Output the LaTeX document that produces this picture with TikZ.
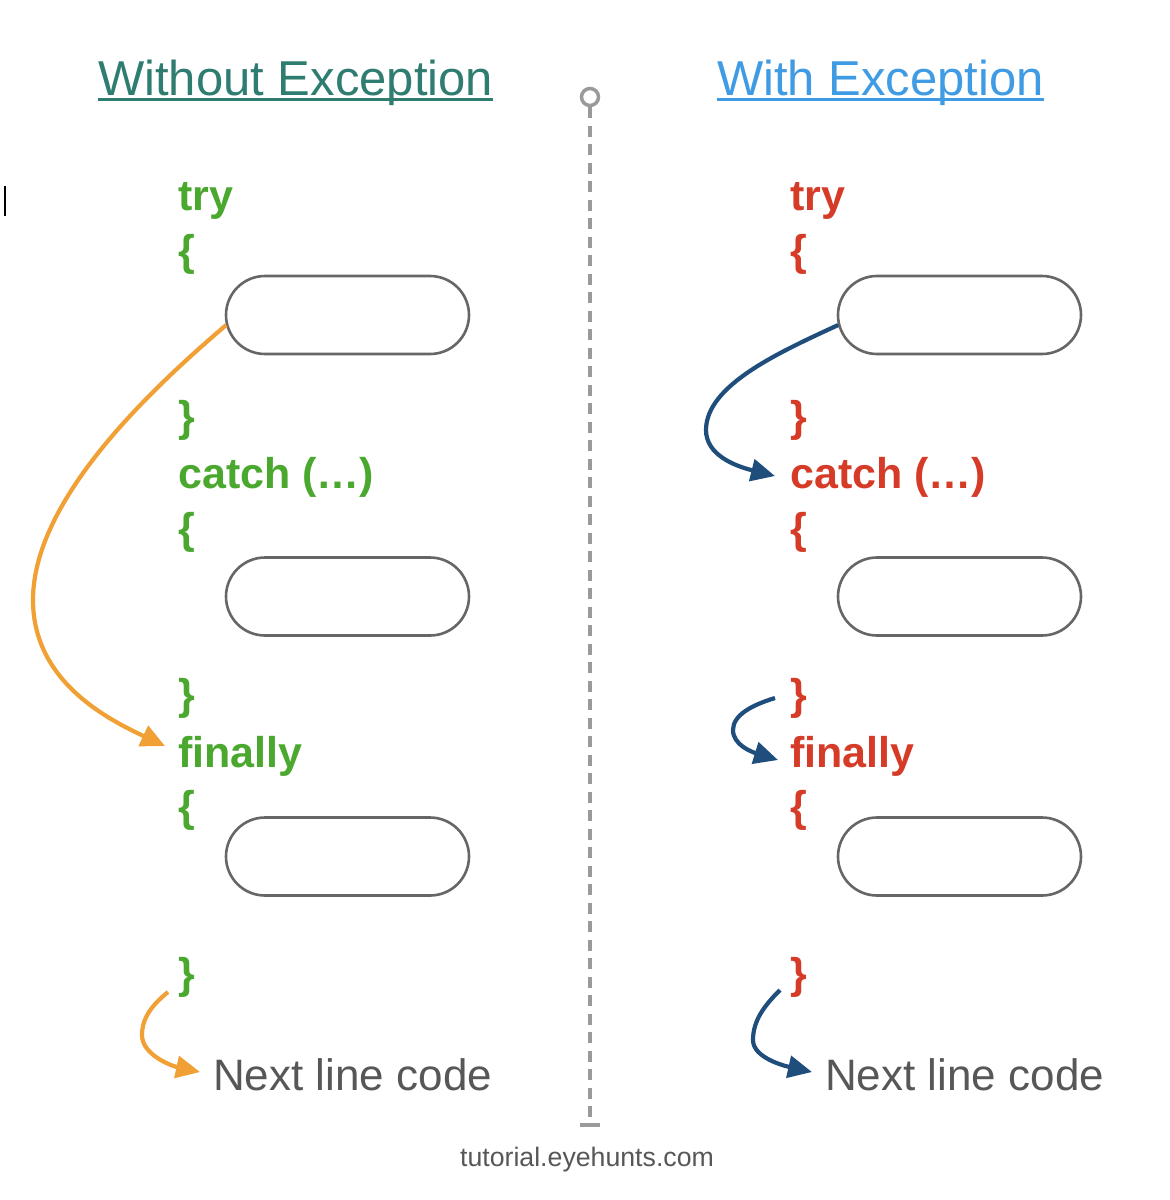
\documentclass[tikz,border=0pt]{standalone}
\usepackage{fontspec}
\setmainfont{Liberation Sans}
\usetikzlibrary{arrows.meta,calc,shapes.misc}
\definecolor{codegreen}{HTML}{4AA82E}
\definecolor{codered}{HTML}{D63B27}
\definecolor{titleteal}{HTML}{2E7D70}
\definecolor{titleblue}{HTML}{3F9BE3}
\definecolor{arrowblue}{HTML}{1F4E7C}
\definecolor{arroworange}{HTML}{F0A035}
\definecolor{textgray}{HTML}{575757}
\definecolor{linegray}{HTML}{9A9A9A}
\definecolor{pillgray}{HTML}{666666}
\begin{document}
\begin{tikzpicture}[x=1pt,y=-1pt,
  code/.style={anchor=base west, inner sep=0pt, font=\fontsize{43pt}{50pt}\selectfont\bfseries},
  greencode/.style={code, text=codegreen},
  redcode/.style={code, text=codered},
  titletext/.style={anchor=base west, inner sep=0pt, font=\fontsize{49pt}{56pt}\selectfont},
  nexttext/.style={anchor=base west, inner sep=0pt, text=textgray, font=\fontsize{44pt}{50pt}\selectfont},
  pill/.style={rounded rectangle, draw=pillgray, line width=2.6pt, minimum width=243pt, minimum height=78pt, inner sep=0pt},
  flowarrow/.style={line width=4.2pt, -{Triangle[length=24pt,width=22pt]}},
  orangearrow/.style={flowarrow, draw=arroworange},
  bluearrow/.style={flowarrow, draw=arrowblue}
]
\useasboundingbox (0,0) rectangle (1170,1200);
\fill[white] (0,0) rectangle (1170,1200);

% cursor mark
\draw[black, line width=1.4pt] (5,186) -- (5,216);

% titles
\node[titletext, text=titleteal] (titleL) at (98,95) {Without Exception};
\draw[titleteal, line width=2.2pt] ($(titleL.base west)+(0,4.5)$) -- ($(titleL.base east)+(0,4.5)$);
\node[titletext, text=titleblue] (titleR) at (717,95) {With Exception};
\draw[titleblue, line width=2.2pt] ($(titleR.base west)+(0,4.5)$) -- ($(titleR.base east)+(0,4.5)$);

% divider
\node[circle, draw=linegray, line width=3.5pt, minimum size=17pt, inner sep=0pt] (circ) at (590,97) {};
\coordinate (divbot) at (590,1125);
\draw[linegray, line width=4pt, dash pattern=on 11pt off 7.5pt] (circ.south) -- (divbot);
\draw[linegray, line width=3.5pt] ($(divbot)+(-10,0)$) -- ($(divbot)+(10,0)$);
\node[anchor=base, inner sep=0pt, text=textgray, font=\fontsize{26.7pt}{30pt}\selectfont] (site) at (587,1166) {tutorial.eyehunts.com};

% left column
\node[greencode] (tryL) at (178,210) {try};
\node[greencode] (obL1) at (178,265) {\{};
\node[pill] (pL1) at (347.5,315) {};
\node[greencode] (cbL1) at (178,431) {\}};
\node[greencode] (catL) at (178,488) {catch (…)};
\node[greencode] (obL2) at (178,543) {\{};
\node[pill] (pL2) at (347.5,596.5) {};
\node[greencode] (cbL2) at (178,709) {\}};
\node[greencode] (finL) at (178,767) {finally};
\node[greencode] (obL3) at (178,821) {\{};
\node[pill] (pL3) at (347.5,856.5) {};
\node[greencode] (cbL3) at (178,988) {\}};
\node[nexttext] (nextL) at (213,1090) {Next line code};

% right column
\node[redcode] (tryR) at (790,210) {try};
\node[redcode] (obR1) at (790,265) {\{};
\node[pill] (pR1) at (959.5,315) {};
\node[redcode] (cbR1) at (790,431) {\}};
\node[redcode] (catR) at (790,488) {catch (…)};
\node[redcode] (obR2) at (790,543) {\{};
\node[pill] (pR2) at (959.5,596.5) {};
\node[redcode] (cbR2) at (790,709) {\}};
\node[redcode] (finR) at (790,767) {finally};
\node[redcode] (obR3) at (790,821) {\{};
\node[pill] (pR3) at (959.5,856.5) {};
\node[redcode] (cbR3) at (790,988) {\}};
\node[nexttext] (nextR) at (825,1090) {Next line code};

% arrows left
\draw[orangearrow] ($(pL1.west)+(1.5,10)$) .. controls (150,390) and (33,500) .. (33,600)
  .. controls (33,680) and (105,718) .. ($(finL.base west)+(-13,-21)$);
\draw[orangearrow] ($(cbL3.base west)+(-10,4)$) .. controls (152,1005) and (142,1018) .. (142,1035)
  .. controls (142,1055) and (172,1066) .. ($(nextL.base west)+(-13,-18)$);

% arrows right
\draw[bluearrow] ($(pR1.west)+(1.5,10)$) .. controls (780,352) and (706,385) .. (706,430)
  .. controls (706,455) and (735,466) .. ($(catR.base west)+(-15,-12)$);
\draw[bluearrow] ($(cbR2.base west)+(-15,-11)$) .. controls (752,705) and (733,715) .. (733,730)
  .. controls (733,745) and (752,752) .. ($(finR.base west)+(-12,-7)$);
\draw[bluearrow] ($(cbR3.base west)+(-10,2)$) .. controls (765,1005) and (753,1020) .. (753,1040)
  .. controls (753,1058) and (785,1066) .. ($(nextR.base west)+(-13,-18)$);
\end{tikzpicture}
\end{document}
